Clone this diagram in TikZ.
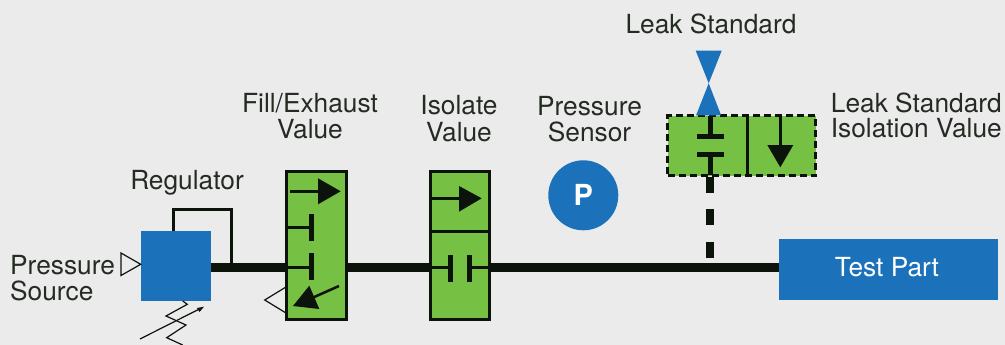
\documentclass[tikz,border=0pt]{standalone}
\usepackage{fontspec}
\setmainfont{TeX Gyre Heros}
\definecolor{bgc}{HTML}{EBEBEB}
\definecolor{gr}{HTML}{76C043}
\definecolor{bl}{HTML}{1B72BB}
\definecolor{ink}{HTML}{0C130A}
\tikzset{
  lab/.style={inner sep=0pt,text=ink!90,font=\fontsize{26.3}{28}\selectfont},
  bluebox/.style={fill=bl,draw=none,inner sep=0pt,outer sep=0pt},
  valve/.style={fill=gr,draw=ink,line width=3pt,inner sep=0pt,outer sep=0pt},
  pipe/.style={draw=ink,line width=9.5pt},
  thin pipe/.style={draw=ink,line width=3pt},
  bar/.style={draw=ink,line width=5pt},
  head/.style={fill=ink,draw=none},
  open/.style={draw=ink,line width=1.2pt,line join=miter},
}
\begin{document}
\begin{tikzpicture}[x=1pt,y=-1pt]
\useasboundingbox[fill=bgc] (0,0) rectangle (1005,345);
% nodes
\node[bluebox,minimum width=70pt,minimum height=70pt] (reg) at (176,266) {};
\node[valve,minimum width=60pt,minimum height=148pt] (fill) at (316,245.5) {};
\node[valve,minimum width=59pt,minimum height=148pt] (iso) at (459.5,245.5) {};
\node[bluebox,minimum width=219pt,minimum height=61pt] (test) at (888.5,269.5) {};
\node[fill=gr,draw=ink,line width=2.5pt,dash pattern=on 7pt off 4pt,minimum width=148pt,minimum height=60pt,inner sep=0pt,outer sep=0pt] (leak) at (741.5,145.7) {};
\node[circle,fill=bl,minimum size=70pt,inner sep=0pt] (sensor) at (583.3,195.3) {};
% coordinates on main line
\coordinate (ly) at (0,267.3);
% main pipe
\draw[pipe] (reg.east|-ly) -- (fill.west|-ly);
\draw[pipe] (fill.east|-ly) -- (iso.west|-ly);
\draw[pipe] (iso.east|-ly) -- (test.west|-ly);
% regulator feedback
\coordinate (fb) at (231,267.3);
\draw[ink,line width=3pt] (173,231) |- (231,209) -- (fb);
% pressure source triangle
\draw[open] (140.7,264.3) -- (121,253) -- (121,275.5) -- cycle;
% spring
\draw[ink,line width=1.2pt] (182.7,301) -- (187.3,304.3) -- (166,316) -- (186,325) -- (166.7,337.7) -- (182.7,345);
\draw[ink,line width=1.2pt] (140,339) -- (200,308.7);
\fill[ink] (204,306.7) -- (197,308) -- (199.5,312) -- cycle;
% fill/exhaust valve
\draw[ink,line width=2.5pt] (290,191.3) -- (320,191.3);
\fill[head] (340.7,191.3) -- (318,178.3) -- (318,204.3) -- cycle;
\draw[ink,line width=3pt] (fill.west|-0,227) -- (311.3,227);
\draw[bar] (311.3,214) -- (311.3,241);
\draw[thin pipe] (fill.west|-ly) -- (311.3,267.3);
\draw[bar] (311.3,253) -- (311.3,280);
\draw[ink,line width=2.5pt] (339,286) -- (312,298);
\fill[head] (293,306) -- (309.3,285.7) -- (319.3,309) -- cycle;
\draw[open] (fill.west|-0,287) -- (264.7,300) -- (fill.west|-0,313);
% isolate valve
\draw[ink,line width=3pt] (iso.north west|-0,231) -- (iso.north east|-0,231);
\draw[ink,line width=3pt] (iso.west|-0,198.3) -- (461,198.3);
\fill[head] (481.7,198.3) -- (459,186) -- (459,211.7) -- cycle;
\draw[thin pipe] (iso.west|-ly) -- (450.3,267.3);
\draw[thin pipe] (469.3,267.3) -- (iso.east|-ly);
\draw[bar] (450.3,255) -- (450.3,281.7);
\draw[bar] (469.3,255) -- (469.3,281.7);
% leak standard valve symbol
\fill[bl] (708.7,83.3) -- (695.7,50.7) -- (721.7,50.7) -- cycle;
\fill[bl] (708.7,83.3) -- (696,115.5) -- (721.2,115.5) -- cycle;
% leak isolation valve
\draw[bar] (710.3,116) -- (710.3,136.5);
\draw[bar] (697,136.5) -- (724,136.5);
\draw[bar] (697,154.3) -- (724,154.3);
\draw[bar] (710.3,154.3) -- (710.3,175);
\draw[ink,line width=3pt] (747.3,116) -- (747.3,175.5);
\draw[ink,line width=3pt] (780.3,116) -- (780.3,147);
\fill[head] (780.3,167.3) -- (767.3,145) -- (793.3,145) -- cycle;
% dashed connector
\coordinate (tap) at (710,263);
\draw[ink,line width=8pt,dash pattern=on 16pt off 16.3pt] (710,177) -- (tap);
% texts
\node[lab,anchor=base] (t1) at (711,34) {Leak Standard};
\node[lab,anchor=base,align=center] (t2) at (310,113) {Fill/Exhaust};
\node[lab,anchor=base] (t3) at (310,139) {Value};
\node[lab,anchor=base] (t4) at (459,114) {Isolate};
\node[lab,anchor=base] (t5) at (459,141) {Value};
\node[lab,anchor=base] (t6) at (589.5,115.7) {Pressure};
\node[lab,anchor=base] (t7) at (589.5,141) {Sensor};
\node[lab,anchor=base] (t8) at (187,189) {Regulator};
\node[lab,anchor=base west] (t9) at (10,274) {Pressure};
\node[lab,anchor=base west] (t10) at (10,300) {Source};
\node[lab,anchor=base east] (t11) at (1002,113) {Leak Standard};
\node[lab,anchor=base east] (t12) at (1002,138) {Isolation Value};
\node[inner sep=0pt,text=white,font=\fontsize{29}{30}\selectfont\bfseries] (t13) at (583.3,195.3) {P};
\node[inner sep=0pt,text=white,font=\fontsize{26.3}{28}\selectfont] (t14) at (887,267.5) {Test Part};
\end{tikzpicture}
\end{document}
